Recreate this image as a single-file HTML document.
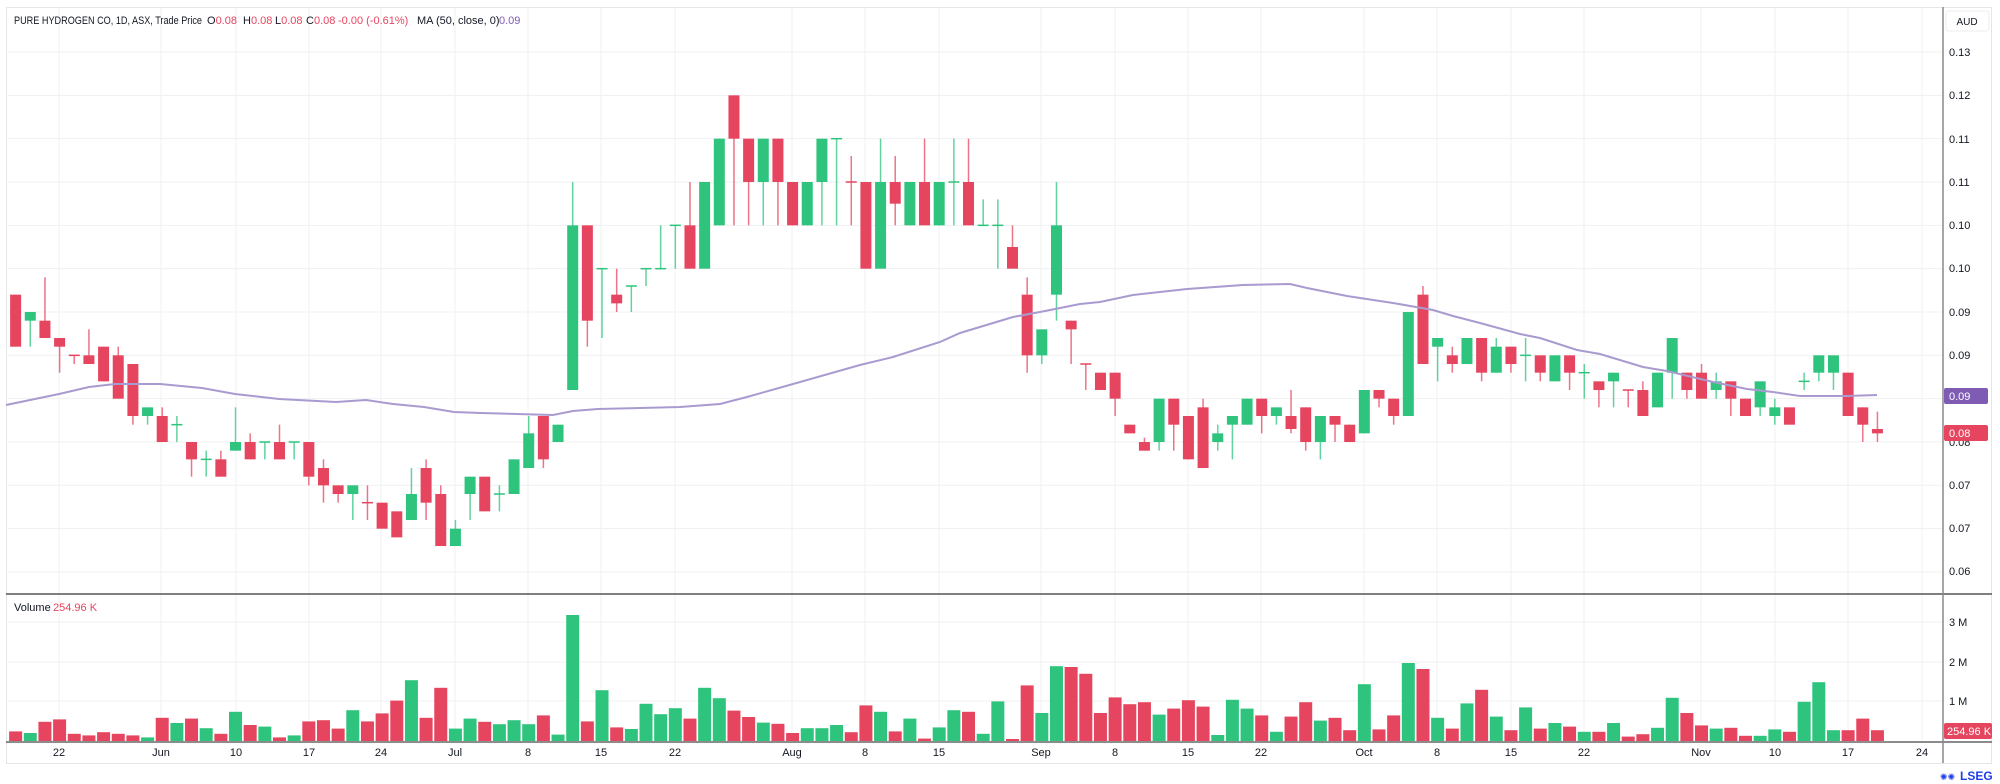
<!DOCTYPE html>
<html><head><meta charset="utf-8"><style>
html,body{margin:0;padding:0;background:#fff;}
svg{display:block;font-family:"Liberation Sans",sans-serif;}
</style></head><body>
<svg id="c" width="2000" height="784" viewBox="0 0 2000 784" xmlns="http://www.w3.org/2000/svg">
<rect x="0" y="0" width="2000" height="784" fill="#fff"/>
<rect x="6.5" y="7.5" width="1985" height="756" fill="none" stroke="#e6e6e6"/>
<g id="grid" stroke="#f0f1f3" stroke-width="1"></g>
<g id="vol"></g>
<g id="cand"></g>
<polyline id="ma" fill="none" stroke="#a99ad0" stroke-width="2" points=""/>
<line x1="6" y1="594" x2="1992" y2="594" stroke="#555" stroke-width="1.5"/>
<line x1="6" y1="742" x2="1992" y2="742" stroke="#666" stroke-width="1.5"/>
<line x1="1943" y1="7" x2="1943" y2="763" stroke="#888" stroke-width="1.5"/>
<g font-size="11" fill="#131722">
<text x="1949" y="56">0.13</text>
<text x="1949" y="99">0.12</text>
<text x="1949" y="143">0.11</text>
<text x="1949" y="186">0.11</text>
<text x="1949" y="229">0.10</text>
<text x="1949" y="272">0.10</text>
<text x="1949" y="316">0.09</text>
<text x="1949" y="359">0.09</text>
<text x="1949" y="446">0.08</text>
<text x="1949" y="489">0.07</text>
<text x="1949" y="532">0.07</text>
<text x="1949" y="575">0.06</text>
<text x="1949" y="626">3 M</text>
<text x="1949" y="666">2 M</text>
<text x="1949" y="705">1 M</text>
</g>
<rect x="1946" y="11" width="43" height="20" rx="3" fill="#fff" stroke="#eee"/>
<text x="1967" y="25" font-size="10" fill="#131722" text-anchor="middle">AUD</text>
<rect x="1944" y="388" width="44" height="16" rx="2" fill="#7e5cb3"/>
<text x="1949" y="400" font-size="11" fill="#fff">0.09</text>
<rect x="1944" y="425" width="44" height="16" rx="2" fill="#e5455f"/>
<text x="1949" y="437" font-size="11" fill="#fff">0.08</text>
<rect x="1944" y="723" width="48" height="16" rx="2" fill="#e5455f"/>
<text x="1947" y="735" font-size="11" fill="#fff">254.96 K</text>
<g font-size="11" fill="#131722" text-anchor="middle">
<text x="59" y="756">22</text><text x="161" y="756">Jun</text><text x="236" y="756">10</text>
<text x="309" y="756">17</text><text x="381" y="756">24</text><text x="455" y="756">Jul</text>
<text x="528" y="756">8</text><text x="601" y="756">15</text><text x="675" y="756">22</text>
<text x="792" y="756">Aug</text><text x="865" y="756">8</text><text x="939" y="756">15</text>
<text x="1041" y="756">Sep</text><text x="1115" y="756">8</text><text x="1188" y="756">15</text>
<text x="1261" y="756">22</text><text x="1364" y="756">Oct</text><text x="1437" y="756">8</text>
<text x="1511" y="756">15</text><text x="1584" y="756">22</text><text x="1701" y="756">Nov</text>
<text x="1775" y="756">10</text><text x="1848" y="756">17</text><text x="1922" y="756">24</text>
</g>
<g font-size="11">
<text x="14" y="24" fill="#131722" textLength="188" lengthAdjust="spacingAndGlyphs">PURE HYDROGEN CO, 1D, ASX, Trade Price</text>
<text x="207" y="24" fill="#131722">O<tspan fill="#e5455f">0.08</tspan></text>
<text x="243" y="24" fill="#131722">H<tspan fill="#e5455f">0.08</tspan></text>
<text x="275" y="24" fill="#131722">L<tspan fill="#e5455f">0.08</tspan></text>
<text x="306" y="24" fill="#131722">C<tspan fill="#e5455f">0.08</tspan></text>
<text x="338" y="24" fill="#e5455f">-0.00 (-0.61%)</text>
<text x="417" y="24" fill="#131722">MA (50, close, 0)</text>
<text x="499" y="24" fill="#7e5cb3">0.09</text>
<text x="14" y="611" fill="#131722">Volume</text>
<text x="53" y="611" fill="#e5455f">254.96 K</text>
</g>
<text x="1940" y="780" font-size="9" fill="#1f3fe8">✺✺</text>
<text x="1960" y="780" font-size="12" font-weight="bold" fill="#1f3fe8">LSEG</text>
</svg>
<script>
var NS="http://www.w3.org/2000/svg";
function el(p,t,a){var e=document.createElementNS(NS,t);for(var k in a)e.setAttribute(k,a[k]);p.appendChild(e);return e;}
var grid=document.getElementById('grid');
for(var k=0;k<13;k++){var y=52+43.33*k;el(grid,'line',{x1:6,x2:1943,y1:y,y2:y});}
[622,662,701].forEach(function(y){el(grid,'line',{x1:6,x2:1943,y1:y,y2:y});});
[59,161,236,309,381,455,528,601,675,792,865,939,1041,1115,1188,1261,1364,1437,1511,1584,1701,1775,1848,1922].forEach(function(x){el(grid,'line',{x1:x,x2:x,y1:8,y2:742});});
var D=[[28,34,28,34,'r'],[31,30,30,34,'g'],[31,33,26,33,'r'],[33,34,33,37,'r'],[35,35,35,36,'r'],[35,36,32,36,'r'],[34,38,34,38,'r'],[35,40,34,40,'r'],[36,42,36,43,'r'],[42,41,41,43,'g'],
[42,45,41,45,'r'],[43,43,42,45,'g'],[45,47,45,49,'r'],[47,47,46,49,'g'],[47,49,46,49,'r'],[46,45,41,46,'g'],[45,47,44,47,'r'],[45,45,45,47,'g'],[45,47,43,47,'r'],[45,45,45,47,'g'],
[45,49,45,50,'r'],[48,50,47,52,'r'],[50,51,50,52,'r'],[51,50,50,54,'g'],[52,52,50,54,'r'],[52,55,52,55,'r'],[53,56,53,56,'r'],[54,51,48,54,'g'],[48,52,47,54,'r'],[51,57,50,57,'r'],
[57,55,54,57,'g'],[51,49,49,54,'g'],[49,53,49,53,'r'],[51,51,50,53,'g'],[51,47,47,51,'g'],[48,44,42,48,'g'],[42,47,42,48,'r'],[45,43,43,45,'g'],[39,20,15,39,'g'],[20,31,20,34,'r'],
[25,25,25,33,'g'],[28,29,25,30,'r'],[27,27,27,30,'g'],[25,25,25,27,'g'],[25,25,20,25,'g'],[20,20,20,25,'g'],[20,25,15,25,'r'],[25,15,15,25,'g'],[20,10,10,20,'g'],[5,10,5,20,'r'],
[10,15,10,20,'r'],[15,10,10,20,'g'],[10,15,10,20,'r'],[15,20,15,20,'r'],[20,15,15,20,'g'],[15,10,10,20,'g'],[10,10,10,20,'g'],[15,15,12,20,'r'],[15,25,15,25,'r'],[25,15,10,25,'g'],
[15,17.5,12,20,'r'],[20,15,15,20,'g'],[15,20,10,20,'r'],[20,15,15,20,'g'],[15,15,10,20,'g'],[15,20,10,20,'r'],[20,20,17,20,'g'],[20,20,17,25,'g'],[22.5,25,20,25,'r'],[28,35,26,37,'r'],
[35,32,32,36,'g'],[28,20,15,31,'g'],[31,32,31,36,'r'],[36,36,36,39,'r'],[37,39,37,39,'r'],[37,40,37,42,'r'],[43,44,43,44,'r'],[45,46,44.5,46,'r'],[45,40,40,46,'g'],[40,43,40,46,'r'],
[42,47,42,47,'r'],[41,48,40,48,'r'],[45,44,43,46,'g'],[43,42,42,47,'g'],[43,40,40,43,'g'],[40,42,40,44,'r'],[42,41,41,43,'g'],[42,43.5,39,44,'r'],[41,45,41,46,'r'],[45,42,42,47,'g'],
[42,43,42,45,'r'],[43,45,43,45,'r'],[44,39,39,44,'g'],[39,40,39,41,'r'],[40,42,40,43,'r'],[42,30,30,42,'g'],[28,36,27,36,'r'],[34,33,33,38,'g'],[35,36,34,37,'r'],[36,33,33,36,'g'],
[33,37,33,38,'r'],[37,34,33,37,'g'],[34,36,34,37,'r'],[35,35,33,38,'g'],[35,37,35,38,'r'],[38,35,35,38,'g'],[35,37,35,39,'r'],[37,37,36,40,'g'],[38,39,38,41,'r'],[38,37,37,41,'g'],
[39,39,39,41,'r'],[39,42,38,42,'r'],[41,37,37,41,'g'],[37,33,33,40,'g'],[37,39,37,40,'r'],[37,40,36,40,'r'],[39,38,37,40,'g'],[38,40,38,42,'r'],[40,42,40,42,'r'],[41,38,38,42,'g'],
[42,41,40,43,'g'],[41,43,41,43,'r'],[38,38,37,39,'g'],[37,35,35,38,'g'],[37,35,35,39,'g'],[37,42,37,42,'r'],[41,43,41,45,'r'],[43.5,44,41.5,45,'r']];
var V=[0.24,0.2,0.48,0.54,0.18,0.14,0.22,0.18,0.14,0.09,0.58,0.45,0.56,0.32,0.18,0.73,0.4,0.36,0.09,0.14,
0.49,0.52,0.31,0.77,0.49,0.69,1.01,1.52,0.58,1.33,0.31,0.56,0.48,0.42,0.52,0.42,0.64,0.16,3.15,0.49,
1.27,0.34,0.3,0.93,0.67,0.82,0.56,1.33,1.07,0.76,0.6,0.46,0.43,0.2,0.32,0.32,0.4,0.22,0.89,0.73,
0.24,0.56,0.06,0.34,0.77,0.73,0.18,0.99,0.05,1.39,0.7,1.87,1.85,1.68,0.7,1.09,0.92,0.97,0.66,0.81,
1.02,0.86,0.15,1.03,0.81,0.64,0.23,0.61,0.97,0.51,0.58,0.27,1.42,0.29,0.64,1.95,1.8,0.58,0.31,0.94,
1.28,0.61,0.27,0.84,0.31,0.45,0.36,0.23,0.23,0.45,0.11,0.17,0.33,1.08,0.7,0.39,0.31,0.33,0.13,0.13,
0.29,0.23,0.98,1.47,0.27,0.27,0.56,0.27];
var R='#e5455f',G='#2ec47d';
var cg=document.getElementById('cand'),vg=document.getElementById('vol');
function Y(u){return 52+u*8.667;}
D.forEach(function(d,i){
 var x=572.7+(i-38)*14.66,col=d[4]=='g'?G:R;
 el(cg,'line',{x1:x,x2:x,y1:Y(d[2]),y2:Y(d[3]),stroke:col,'stroke-width':1.5,'stroke-opacity':0.75});
 var t=Math.min(Y(d[0]),Y(d[1])),b=Math.max(Y(d[0]),Y(d[1]));
 if(b-t<1.5){t-=0.75;b=t+1.5;}
 el(cg,'rect',{x:x-5.5,y:t,width:11,height:b-t,fill:col});
 var h=V[i]*40;
 el(vg,'rect',{x:x-6.5,y:741-h,width:13,height:h,fill:col});
});
var M=[[6,405],[59,394],[89,387],[115,384],[160,384],[202,388],[235,394],[279,399],[336,402],[366,400],[393,404],[424,407],[454,412],[481,413],[553,415],[573,411],[598,409],[640,408],[680,407],[720,404],[747,397],[793,384],[860,365],[893,357],[940,342],[960,333],[1013,317],[1040,312],[1080,304],[1100,302],[1133,295],[1187,289],[1243,285],[1290,284],[1307,288],[1347,296],[1393,303],[1433,310],[1453,316],[1480,323],[1520,334],[1540,338],[1577,350],[1600,354],[1643,367],[1667,371],[1713,382],[1747,389],[1773,392],[1800,396],[1847,396],[1877,395]];
document.getElementById('ma').setAttribute('points',M.map(function(p){return p[0]+','+p[1];}).join(' '));
</script>
</body></html>
